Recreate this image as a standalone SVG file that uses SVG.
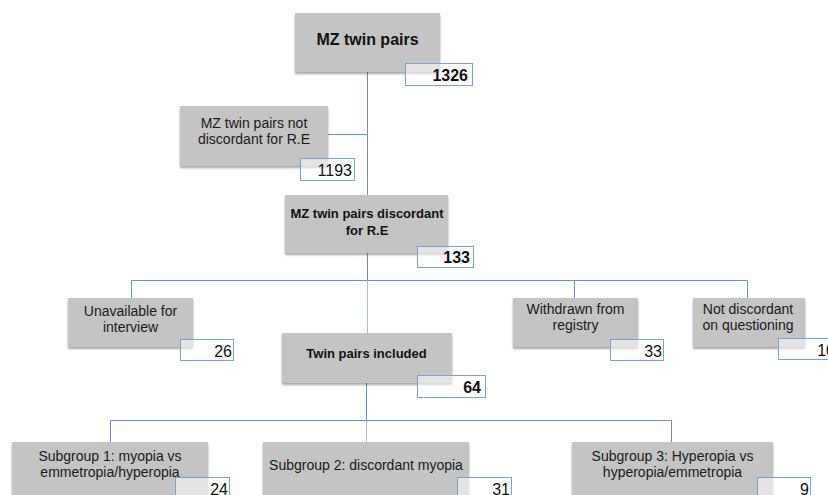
<svg xmlns="http://www.w3.org/2000/svg" width="828" height="495" viewBox="0 0 828 495">
<defs>
<filter id="sh" x="-5%" y="-5%" width="115%" height="120%">
<feGaussianBlur in="SourceAlpha" stdDeviation="1"/>
<feOffset dx="0" dy="1.5" result="b"/>
<feComponentTransfer><feFuncA type="linear" slope="0.35"/></feComponentTransfer>
<feMerge><feMergeNode/><feMergeNode in="SourceGraphic"/></feMerge>
</filter>
<style>
.box{fill:#c4c4c4;filter:url(#sh)}
.num{fill:#ffffff;fill-opacity:0.55;stroke:#7f9fcd;stroke-width:1}
.t{font-family:"Liberation Sans",Arial,sans-serif;font-size:14px;fill:#1a1a1a;text-anchor:middle}
.tb{font-family:"Liberation Sans",Arial,sans-serif;font-size:13px;font-weight:bold;fill:#111;text-anchor:middle}
.n{font-family:"Liberation Sans",Arial,sans-serif;font-size:16px;fill:#111;text-anchor:end}
.nb{font-family:"Liberation Sans",Arial,sans-serif;font-size:16px;font-weight:bold;fill:#111;text-anchor:end}
.c{stroke:#6a8fc2;stroke-width:1;fill:none}
.cl{stroke:#a9bfdf;stroke-width:1;fill:none}
</style>
</defs>
<rect width="828" height="495" fill="#ffffff"/>
<g id="connectors">
<path class="c" d="M367.5 72 V195"/>
<path class="c" d="M328 134.5 H367.5"/>
<path class="c" d="M367.5 253 V280.5"/>
<path class="c" d="M131.5 280.5 H747.5"/>
<path class="c" d="M131.5 280.5 V298"/>
<path class="c" d="M574.5 280.5 V298"/>
<path class="c" d="M747.5 280.5 V298"/>
<path class="cl" d="M367.5 280.5 V333"/>
<path class="c" d="M366.5 383 V420.5"/>
<path class="c" d="M110.5 420.5 H671.5"/>
<path class="c" d="M110.5 420.5 V442"/>
<path class="cl" d="M366.5 420.5 V442"/>
<path class="c" d="M671.5 420.5 V442"/>
</g>
<g id="n1">
<rect class="box" x="295" y="13" width="145" height="59"/>
<text class="tb" x="367.5" y="45" style="font-size:16px">MZ twin pairs</text>
<rect class="num" x="405.5" y="63.5" width="67" height="22"/>
<text class="nb" x="468" y="81">1326</text>
</g>
<g id="n2">
<rect class="box" x="180" y="106" width="148" height="60"/>
<text class="t" x="254" y="128">MZ twin pairs not</text>
<text class="t" x="254" y="144">discordant for R.E</text>
<rect class="num" x="300.5" y="158.5" width="54" height="22"/>
<text class="n" x="352" y="176">1193</text>
</g>
<g id="n3">
<rect class="box" x="285" y="195" width="163" height="58"/>
<text class="tb" x="367" y="218">MZ twin pairs discordant</text>
<text class="tb" x="367" y="235">for R.E</text>
<rect class="num" x="417.5" y="246.5" width="56" height="21"/>
<text class="n" x="470" y="263" style="font-weight:bold">133</text>
</g>
<g id="n4">
<rect class="box" x="68" y="298" width="125" height="49"/>
<text class="t" x="130.5" y="316">Unavailable for</text>
<text class="t" x="130.5" y="332">interview</text>
<rect class="num" x="180.5" y="339.5" width="53" height="21"/>
<text class="n" x="232" y="357">26</text>
</g>
<g id="n5">
<rect class="box" x="513" y="298" width="125" height="49"/>
<text class="t" x="575.5" y="314">Withdrawn from</text>
<text class="t" x="575.5" y="330">registry</text>
<rect class="num" x="610.5" y="339.5" width="53" height="21"/>
<text class="n" x="662" y="357">33</text>
</g>
<g id="n6">
<rect class="box" x="693" y="298" width="112" height="49"/>
<text class="t" x="748" y="314">Not discordant</text>
<text class="t" x="748" y="330">on questioning</text>
<rect class="num" x="778.5" y="338.5" width="60" height="21"/>
<text class="n" x="835" y="356">10</text>
</g>
<g id="n7">
<rect class="box" x="282" y="333" width="170" height="50"/>
<text class="tb" x="366.5" y="358">Twin pairs included</text>
<rect class="num" x="417.5" y="375.5" width="68" height="22"/>
<text class="nb" x="481" y="393">64</text>
</g>
<g id="n8">
<rect class="box" x="12" y="442" width="196" height="60"/>
<text class="t" x="110" y="461">Subgroup 1: myopia vs</text>
<text class="t" x="110" y="477">emmetropia/hyperopia</text>
<rect class="num" x="175.5" y="477.5" width="54" height="22"/>
<text class="n" x="228" y="495">24</text>
</g>
<g id="n9">
<rect class="box" x="263" y="442" width="206" height="60"/>
<text class="t" x="366" y="470">Subgroup 2: discordant myopia</text>
<rect class="num" x="457.5" y="477.5" width="54" height="22"/>
<text class="n" x="510" y="495">31</text>
</g>
<g id="n10">
<rect class="box" x="572" y="442" width="201" height="60"/>
<text class="t" x="672.5" y="461">Subgroup 3: Hyperopia vs</text>
<text class="t" x="672.5" y="477">hyperopia/emmetropia</text>
<rect class="num" x="757.5" y="477.5" width="53" height="22"/>
<text class="n" x="809" y="495">9</text>
</g>
</svg>
